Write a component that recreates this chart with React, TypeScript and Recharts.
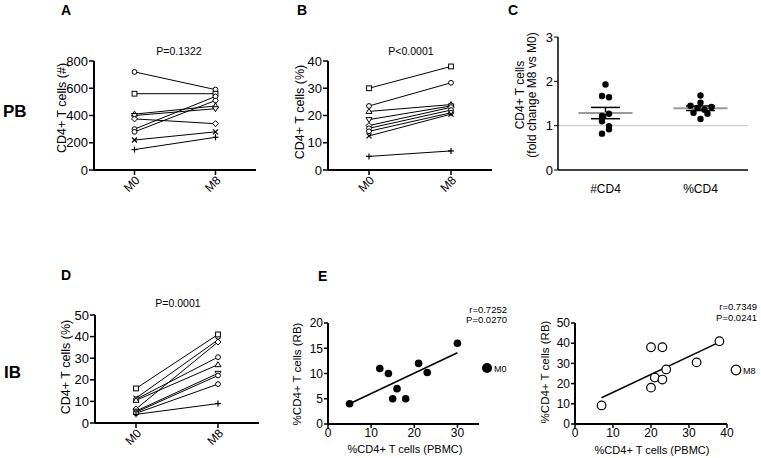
import React from 'react';
import { ComposedChart, Line, Scatter, XAxis, YAxis, ReferenceLine, ErrorBar } from 'recharts';

const FONT = '"Liberation Sans", Arial, sans-serif';

// paired M0 / M8 panels
const TIME_LABELS = ['M0', 'M8'];
const A_M0 = [720, 560, 410, 400, 375, 300, 280, 220, 150];
const A_M8 = [590, 560, 470, 450, 340, 540, 510, 280, 240];
const A_TICKS = [0, 200, 400, 600, 800];
const B_M0 = [30, 23.5, 21.5, 18.5, 16.3, 15.3, 14.2, 12.5, 5];
const B_M8 = [38, 32, 24, 23.5, 23, 22, 21, 20.5, 7];
const B_TICKS = [0, 10, 20, 30, 40];
const D_M0 = [16, 11.5, 6.5, 11, 10.5, 5.5, 5, 4.5, 4];
const D_M8 = [41, 38.5, 37.5, 30.5, 27, 23, 22, 18, 9];
const D_TICKS = [0, 10, 20, 30, 40, 50];

// fold change panel
const FOLD_GROUPS = ['#CD4', '%CD4'];
const FOLD_ABS = [1.93, 1.67, 1.64, 1.27, 1.22, 1.1, 0.99, 0.92, 0.82];
const FOLD_PCT = [1.68, 1.52, 1.45, 1.42, 1.4, 1.36, 1.29, 1.27, 1.15];
const FOLD_TICKS = [0, 1, 2, 3];

// correlation panels
const M0_PBMC = [5, 12, 14, 15, 16, 18, 21, 23, 30];
const M0_RB = [4, 11, 10, 5, 7, 5, 12, 10.2, 16];
const M0_FIT = [[5, 4.0], [30, 14.1]];
const M8_PBMC = [7, 20, 23, 20, 21, 23, 24, 32, 38];
const M8_RB = [9.2, 38, 38, 18, 23, 22, 27, 30.5, 41];
const M8_FIT = [[7, 13], [38, 40.5]];

const SHAPES_A = ['circle', 'square', 'triangle', 'triangleDown', 'diamond', 'circle', 'hexagon', 'cross', 'plus'];
const SHAPES_B = ['square', 'circle', 'triangle', 'triangleDown', 'diamond', 'circle', 'hexagon', 'cross', 'plus'];
const SHAPES_D = ['square', 'cross', 'diamond', 'circle', 'triangle', 'triangleDown', 'circle', 'hexagon', 'plus'];

const JITTER_ABS = [0, -3.5, 3.5, 3.5, -3.5, -3.5, 3.5, 3.5, -3.5];
const JITTER_PCT = [0, 0, -10, 11, -3, 4, -7, 7, 0];

const PAD_L = 60;
const PAD_T = 10;
const PAD_R = 10;
const PAD_B = 40;

const mean = (a: number[]) => a.reduce((s, v) => s + v, 0) / a.length;
const sem = (a: number[]) => {
  const m = mean(a);
  const sd = Math.sqrt(a.reduce((s, v) => s + (v - m) ** 2, 0) / (a.length - 1));
  return sd / Math.sqrt(a.length);
};

function Marker({ cx, cy, shape }: { cx: number; cy: number; shape: string }) {
  const st = { fill: '#fff', stroke: '#000', strokeWidth: 1 };
  const r = 2.4;
  switch (shape) {
    case 'circle':
      return <circle cx={cx} cy={cy} r={r} {...st} />;
    case 'square':
      return <rect x={cx - r} y={cy - r} width={2 * r} height={2 * r} {...st} />;
    case 'triangle':
      return <polygon points={`${cx},${cy - 3} ${cx + 3},${cy + 2} ${cx - 3},${cy + 2}`} {...st} />;
    case 'triangleDown':
      return <polygon points={`${cx},${cy + 3} ${cx + 3},${cy - 2} ${cx - 3},${cy - 2}`} {...st} />;
    case 'diamond':
      return <polygon points={`${cx},${cy - 3} ${cx + 3},${cy} ${cx},${cy + 3} ${cx - 3},${cy}`} {...st} />;
    case 'hexagon':
      return <polygon points={`${cx - 2.6},${cy} ${cx - 1.3},${cy - 2.2} ${cx + 1.3},${cy - 2.2} ${cx + 2.6},${cy} ${cx + 1.3},${cy + 2.2} ${cx - 1.3},${cy + 2.2}`} {...st} />;
    case 'cross':
      return (
        <g stroke="#000" strokeWidth={1.2}>
          <line x1={cx - 2.5} y1={cy - 2.5} x2={cx + 2.5} y2={cy + 2.5} />
          <line x1={cx - 2.5} y1={cy + 2.5} x2={cx + 2.5} y2={cy - 2.5} />
        </g>
      );
    default:
      return (
        <g stroke="#000" strokeWidth={1.2}>
          <line x1={cx - 3} y1={cy} x2={cx + 3} y2={cy} />
          <line x1={cx} y1={cy - 3} x2={cx} y2={cy + 3} />
        </g>
      );
  }
}

const axisLine = { stroke: '#000', strokeWidth: 2 };
const tickLine = { stroke: '#000', strokeWidth: 1.5 };

// rotated M0 / M8 labels
function renderTimeTick(props: any) {
  const { x, y, payload } = props;
  return (
    <g key={`t${payload.value}`} transform={`translate(${x + 3},${y + 1})`}>
      <text x={0} y={0} transform="rotate(-45)" textAnchor="end" dy="0.35em" fontSize={12} fontFamily={FONT} fill="#000">
        {TIME_LABELS[payload.value]}
      </text>
    </g>
  );
}

type Rect = { x: number; y: number; w: number; h: number };

function Frame({ r, children }: { r: Rect; children: React.ReactNode }) {
  return (
    <div style={{ position: 'absolute', left: r.x - PAD_L, top: r.y - PAD_T }}>
      <ComposedChart
        width={r.w + PAD_L + PAD_R}
        height={r.h + PAD_T + PAD_B}
        margin={{ top: PAD_T, right: PAD_R, bottom: 0, left: 0 }}
      >
        {children}
      </ComposedChart>
    </div>
  );
}

function PairedPanel({ r, m0, m8, shapes, ticks }: { r: Rect; m0: number[]; m8: number[]; shapes: string[]; ticks: number[] }) {
  return (
    <div style={{ position: 'absolute', left: r.x - PAD_L, top: r.y - PAD_T }}>
      <ComposedChart
        width={r.w + PAD_L + PAD_R}
        height={r.h + PAD_T + PAD_B}
        margin={{ top: PAD_T, right: PAD_R, bottom: 0, left: 0 }}
      >
        <XAxis
          type="number"
          dataKey="x"
          domain={[-0.5, 1.5]}
          ticks={[0, 1]}
          height={PAD_B}
          stroke="#000"
          tick={renderTimeTick}
          axisLine={axisLine}
          tickLine={tickLine}
          tickSize={5}
        />
        <YAxis
          type="number"
          width={PAD_L}
          domain={[0, ticks[ticks.length - 1]]}
          ticks={ticks}
          interval={0}
          stroke="#000"
          tick={{ fontSize: 13, fill: '#000', fontFamily: FONT }}
          axisLine={axisLine}
          tickLine={tickLine}
          tickSize={5}
          tickMargin={1}
        />
        {m0.map((v, i) => (
          <Line
            key={i}
            data={[{ x: 0, y: v }, { x: 1, y: m8[i] }]}
            dataKey="y"
            type="linear"
            stroke="#000"
            strokeWidth={1}
            isAnimationActive={false}
            dot={(p: any) => <Marker key={`d${i}-${p.index}`} cx={p.cx} cy={p.cy} shape={shapes[i]} />}
          />
        ))}
      </ComposedChart>
    </div>
  );
}

function MeanBar(p: any) {
  return <line x1={p.cx - 27} x2={p.cx + 27} y1={p.cy} y2={p.cy} stroke="#9a9a9a" strokeWidth={2} />;
}

function JitterDot(p: any) {
  const j = p.payload.g === 1 ? JITTER_ABS[p.payload.idx] : JITTER_PCT[p.payload.idx];
  return <circle cx={p.cx + j} cy={p.cy} r={3.2} fill="#000" />;
}

function FoldPanel({ r }: { r: Rect }) {
  const summary = [
    { x: 1, y: mean(FOLD_ABS), e: sem(FOLD_ABS) },
    { x: 2, y: mean(FOLD_PCT), e: sem(FOLD_PCT) },
  ];
  const abs = FOLD_ABS.map((y, idx) => ({ x: 1, y, g: 1, idx }));
  const pct = FOLD_PCT.map((y, idx) => ({ x: 2, y, g: 2, idx }));
  return (
    <Frame r={r}>
      <XAxis
        type="number"
        dataKey="x"
        domain={[0.5, 2.5]}
        ticks={[1, 2]}
        tickFormatter={(v) => FOLD_GROUPS[v - 1]}
        height={PAD_B}
        stroke="#000"
        tick={{ fontSize: 12, fill: '#000', fontFamily: FONT }}
        axisLine={{ stroke: '#000', strokeWidth: 1.5 }}
        tickLine={false}
        tickMargin={8}
      />
      <YAxis
        type="number"
        dataKey="y"
        width={PAD_L}
        domain={[0, 3]}
        ticks={FOLD_TICKS}
        interval={0}
        stroke="#000"
        tick={{ fontSize: 13, fill: '#000', fontFamily: FONT }}
        axisLine={{ stroke: '#000', strokeWidth: 1.5 }}
        tickLine={{ stroke: '#000', strokeWidth: 1 }}
        tickSize={4}
        tickMargin={1}
      />
      <ReferenceLine y={1} stroke="#c4c4c4" strokeWidth={1} />
      <Scatter data={summary} shape={MeanBar} isAnimationActive={false}>
        <ErrorBar dataKey="e" direction="y" width={14.5} stroke="#000" strokeWidth={1.5} isAnimationActive={false} />
      </Scatter>
      <Scatter data={abs} shape={JitterDot} isAnimationActive={false} />
      <Scatter data={pct} shape={JitterDot} isAnimationActive={false} />
    </Frame>
  );
}

function CorrPanel({ r, xs, ys, fit, xMax, yMax, xTicks, yTicks, open }: any) {
  const pts = xs.map((x: number, i: number) => ({ x, y: ys[i] }));
  const line = fit.map(([x, y]: number[]) => ({ x, y }));
  return (
    <Frame r={r}>
      <XAxis
        type="number"
        dataKey="x"
        domain={[0, xMax]}
        ticks={xTicks}
        interval={0}
        height={PAD_B}
        stroke="#000"
        tick={{ fontSize: 12, fill: '#000', fontFamily: FONT }}
        axisLine={axisLine}
        tickLine={tickLine}
        tickSize={4}
        tickMargin={0}
      />
      <YAxis
        type="number"
        dataKey="y"
        width={PAD_L}
        domain={[0, yMax]}
        ticks={yTicks}
        interval={0}
        stroke="#000"
        tick={{ fontSize: 12, fill: '#000', fontFamily: FONT }}
        axisLine={axisLine}
        tickLine={tickLine}
        tickSize={4}
        tickMargin={1}
      />
      <Line data={line} dataKey="y" type="linear" stroke="#000" strokeWidth={1.5} dot={false} isAnimationActive={false} />
      <Scatter
        data={pts}
        isAnimationActive={false}
        shape={(p: any) =>
          open ? (
            <circle cx={p.cx} cy={p.cy} r={4.3} fill="#fff" stroke="#000" strokeWidth={1.2} />
          ) : (
            <circle cx={p.cx} cy={p.cy} r={3.8} fill="#000" />
          )
        }
      />
    </Frame>
  );
}

function VText({ x, y, size, children }: { x: number; y: number; size: number; children: React.ReactNode }) {
  return (
    <text x={x} y={y} transform={`rotate(-90 ${x} ${y})`} textAnchor="middle" dominantBaseline="central" fontSize={size}>
      {children}
    </text>
  );
}

export default function App() {
  return (
    <div style={{ position: 'absolute', left: 0, top: 0, width: 761, height: 458, background: '#fff', fontFamily: FONT, overflow: 'hidden' }}>
      <PairedPanel r={{ x: 94, y: 61, w: 162, h: 109 }} m0={A_M0} m8={A_M8} shapes={SHAPES_A} ticks={A_TICKS} />
      <PairedPanel r={{ x: 328, y: 61, w: 164, h: 109 }} m0={B_M0} m8={B_M8} shapes={SHAPES_B} ticks={B_TICKS} />
      <FoldPanel r={{ x: 558, y: 37, w: 190, h: 133 }} />
      <PairedPanel r={{ x: 95, y: 315, w: 164, h: 108 }} m0={D_M0} m8={D_M8} shapes={SHAPES_D} ticks={D_TICKS} />
      <CorrPanel
        r={{ x: 328, y: 323, w: 151, h: 101 }}
        xs={M0_PBMC}
        ys={M0_RB}
        fit={M0_FIT}
        xMax={35}
        yMax={20}
        xTicks={[0, 10, 20, 30]}
        yTicks={[0, 5, 10, 15, 20]}
        open={false}
      />
      <CorrPanel
        r={{ x: 575, y: 323, w: 152, h: 101 }}
        xs={M8_PBMC}
        ys={M8_RB}
        fit={M8_FIT}
        xMax={40}
        yMax={50}
        xTicks={[0, 10, 20, 30, 40]}
        yTicks={[0, 10, 20, 30, 40, 50]}
        open={true}
      />
      <svg width={761} height={458} style={{ position: 'absolute', left: 0, top: 0, pointerEvents: 'none' }} fontFamily={FONT} fill="#000">
        <g fontWeight="bold" fontSize={14}>
          <text x={61} y={15}>A</text>
          <text x={297} y={15}>B</text>
          <text x={508} y={15}>C</text>
          <text x={61} y={280}>D</text>
          <text x={318} y={281}>E</text>
        </g>
        <g fontWeight="bold" fontSize={17}>
          <text x={3} y={117}>PB</text>
          <text x={4} y={378}>IB</text>
        </g>
        <g fontSize={10.5} textAnchor="middle">
          <text x={179} y={55}>P=0.1322</text>
          <text x={411} y={55}>P&lt;0.0001</text>
          <text x={178} y={307}>P=0.0001</text>
        </g>
        <VText x={62} y={108} size={12.5}>CD4+ T cells (#)</VText>
        <VText x={300} y={112} size={12.5}>CD4+ T cells (%)</VText>
        <VText x={520} y={95} size={12}>CD4+ T cells</VText>
        <VText x={532} y={95} size={12}>(fold change M8 vs M0)</VText>
        <VText x={66} y={367} size={12.5}>CD4+ T cells (%)</VText>
        <VText x={297} y={374} size={11.5}>%CD4+ T cells (RB)</VText>
        <VText x={545} y={372} size={11.5}>%CD4+ T cells (RB)</VText>
        <g fontSize={11} textAnchor="middle">
          <text x={405} y={453}>%CD4+ T cells (PBMC)</text>
          <text x={652} y={454}>%CD4+ T cells (PBMC)</text>
        </g>
        <g fontSize={9.5} textAnchor="end">
          <text x={507} y={313}>r=0.7252</text>
          <text x={507} y={323}>P=0.0270</text>
          <text x={757} y={310}>r=0.7349</text>
          <text x={757} y={321}>P=0.0241</text>
        </g>
        <circle cx={487} cy={368} r={5} fill="#000" />
        <text x={494} y={371.5} fontSize={9}>M0</text>
        <circle cx={736} cy={370} r={4.8} fill="#fff" stroke="#000" strokeWidth={1.2} />
        <text x={743} y={373.5} fontSize={9}>M8</text>
      </svg>
    </div>
  );
}
